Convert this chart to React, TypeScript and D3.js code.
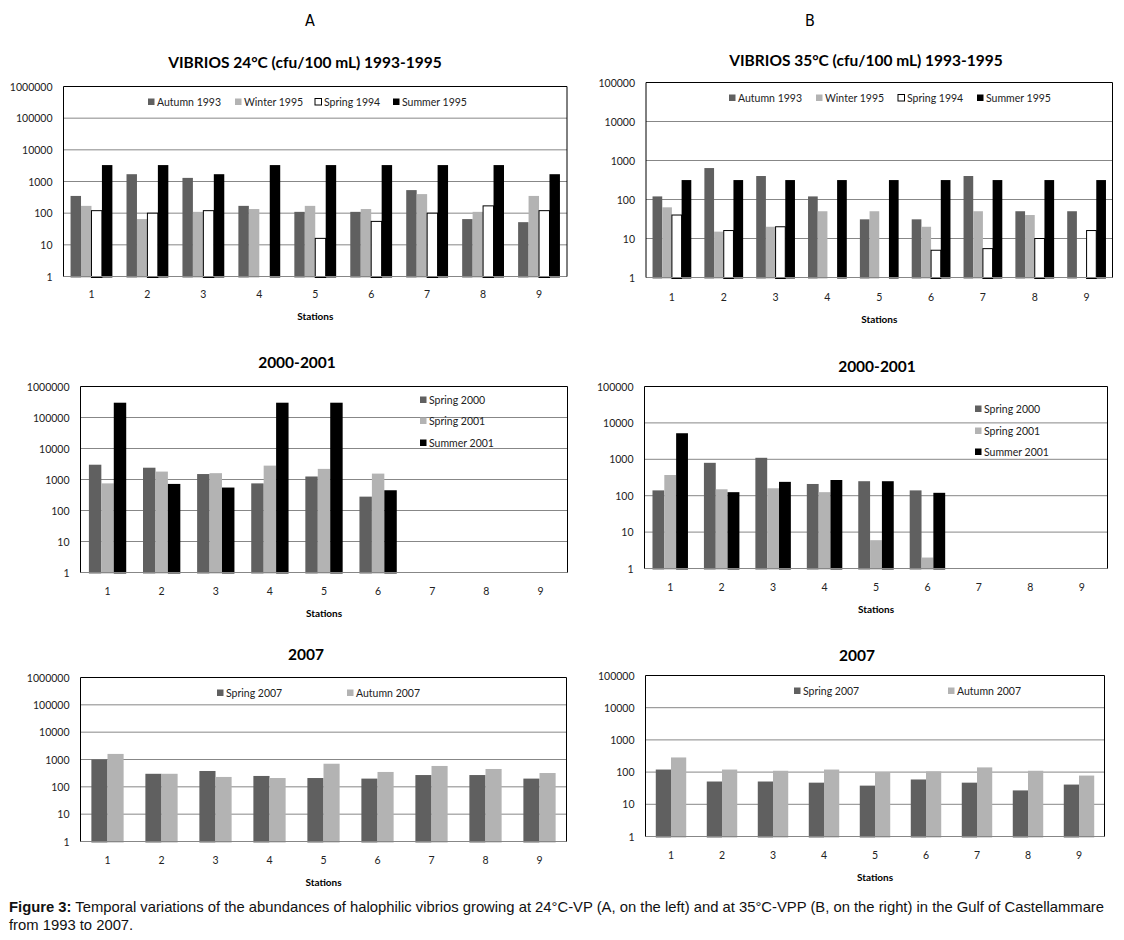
import React from 'react'
import * as d3 from 'd3'

// stations on the x axis
const stations = ['1', '2', '3', '4', '5', '6', '7', '8', '9']
const ticks24 = [1, 10, 100, 1000, 10000, 100000, 1000000]
const ticks35 = [1, 10, 100, 1000, 10000, 100000]

// A - 24°C, 1993-1995
const autumn1993A = [350, 1700, 1300, 170, 110, 110, 535, 65, 52]
const winter1995A = [170, 65, 110, 135, 170, 135, 400, 110, 350]
const spring1994A = [120, 100, 120, null, 16, 55, 100, 170, 120]
const summer1995A = [3300, 3300, 1700, 3300, 3300, 3300, 3300, 3300, 1700]

// B - 35°C, 1993-1995
const autumn1993B = [120, 640, 400, 120, 31, 31, 400, 50, 50]
const winter1995B = [63, 15, 20, 50, 50, 20, 50, 40, null]
const spring1994B = [40, 16, 20, null, null, 5, 5.5, 10, 16]
const summer1995B = [315, 315, 315, 315, 315, 315, 315, 315, 315]

// 2000-2001
const spring2000A = [3000, 2400, 1500, 750, 1250, 280, null, null, null]
const spring2001A = [750, 1800, 1600, 2800, 2200, 1550, null, null, null]
const summer2001A = [300000, 720, 550, 300000, 300000, 450, null, null, null]
const spring2000B = [140, 800, 1100, 210, 250, 140, null, null, null]
const spring2001B = [370, 150, 160, 125, 6, 2, null, null, null]
const summer2001B = [5200, 125, 240, 270, 250, 120, null, null, null]

// 2007
const spring2007A = [1000, 300, 380, 250, 210, 200, 270, 270, 200]
const autumn2007A = [1600, 300, 230, 210, 700, 350, 580, 450, 320]
const spring2007B = [120, 51, 51, 47, 38, 59, 47, 27, 41]
const autumn2007B = [285, 120, 110, 120, 100, 105, 140, 110, 78]

const DARK = '#606060'
const LIGHT = '#b3b3b3'
const GRID = '#878787'
const FONT = 'Lato, "Open Sans", sans-serif'

type Series = { name: string; values: (number | null)[]; fill: string; stroke?: string }
type Box = { x0: number; x1: number; y0: number; y1: number }
type LegendItem = { x: number; y: number }

interface PanelProps {
    title: string
    titleX: number
    titleY: number
    box: Box
    ticks: number[]
    series: Series[]
    legend: LegendItem[]
    xLabelY: number
    stationsY: number
}

const Panel: React.FC<PanelProps> = ({ title, titleX, titleY, box, ticks, series, legend, xLabelY, stationsY }) => {
    const gap = 1.35
    const n = series.length
    const pad = gap / (n + gap)
    const x = d3.scaleBand().domain(stations).range([box.x0, box.x1]).paddingInner(pad).paddingOuter(pad / 2)
    const inner = d3.scaleBand().domain(series.map((s) => s.name)).range([0, x.bandwidth()])
    const y = d3
        .scaleLog()
        .domain([1, ticks[ticks.length - 1]])
        .range([box.y1, box.y0])
    const band = (box.x1 - box.x0) / stations.length

    return (
        <g>
            <text x={titleX} y={titleY} textAnchor='middle' dominantBaseline='central' fontFamily={FONT} fontWeight='bold' fontSize={15.5}>
                {title}
            </text>
            {ticks.slice(1, -1).map((t) => (
                <line key={t} x1={box.x0} x2={box.x1} y1={y(t)} y2={y(t)} stroke={GRID} strokeWidth={1} />
            ))}
            {ticks.map((t) => (
                <text key={'l' + t} x={box.x0 - 11} y={y(t)} textAnchor='end' dominantBaseline='central' fontFamily={FONT} fontSize={10.5} fill='#222'>
                    {String(t)}
                </text>
            ))}
            {series.map((s) =>
                s.values.map((v, j) =>
                    v == null ? null : (
                        <rect
                            key={s.name + j}
                            x={(x(stations[j]) as number) + (inner(s.name) as number)}
                            y={y(v)}
                            width={inner.bandwidth()}
                            height={box.y1 - y(v) + 1}
                            fill={s.fill}
                            stroke={s.stroke ?? 'none'}
                            strokeWidth={1}
                        />
                    )
                )
            )}
            <line x1={box.x0} x2={box.x1} y1={box.y1} y2={box.y1} stroke={GRID} strokeWidth={1} />
            <path d={`M${box.x0},${box.y1}V${box.y0}H${box.x1}V${box.y1}`} fill='none' stroke='#000' strokeWidth={1} />
            {stations.map((st, j) => (
                <text key={'s' + st} x={box.x0 + band * (j + 0.5)} y={xLabelY} textAnchor='middle' dominantBaseline='central' fontFamily={FONT} fontSize={10.5} fill='#222'>
                    {st}
                </text>
            ))}
            <text x={(box.x0 + box.x1) / 2} y={stationsY} textAnchor='middle' dominantBaseline='central' fontFamily={FONT} fontWeight='bold' fontSize={10}>
                Stations
            </text>
            {series.map((s, i) => (
                <g key={'lg' + s.name}>
                    <rect x={legend[i].x} y={legend[i].y - 3.5} width={6.5} height={6.5} fill={s.fill} stroke={s.stroke ?? 'none'} strokeWidth={1} />
                    <text x={legend[i].x + 9} y={legend[i].y} dominantBaseline='central' fontFamily={FONT} fontSize={10.5} fill='#222'>
                        {s.name}
                    </text>
                </g>
            ))}
        </g>
    )
}

const seasonsA: Series[] = [
    { name: 'Autumn 1993', values: autumn1993A, fill: DARK },
    { name: 'Winter 1995', values: winter1995A, fill: LIGHT },
    { name: 'Spring 1994', values: spring1994A, fill: '#fff', stroke: '#000' },
    { name: 'Summer 1995', values: summer1995A, fill: '#000' }
]
const seasonsB: Series[] = [
    { name: 'Autumn 1993', values: autumn1993B, fill: DARK },
    { name: 'Winter 1995', values: winter1995B, fill: LIGHT },
    { name: 'Spring 1994', values: spring1994B, fill: '#fff', stroke: '#000' },
    { name: 'Summer 1995', values: summer1995B, fill: '#000' }
]
const y2000A: Series[] = [
    { name: 'Spring 2000', values: spring2000A, fill: DARK },
    { name: 'Spring 2001', values: spring2001A, fill: LIGHT },
    { name: 'Summer 2001', values: summer2001A, fill: '#000' }
]
const y2000B: Series[] = [
    { name: 'Spring 2000', values: spring2000B, fill: DARK },
    { name: 'Spring 2001', values: spring2001B, fill: LIGHT },
    { name: 'Summer 2001', values: summer2001B, fill: '#000' }
]
const y2007A: Series[] = [
    { name: 'Spring 2007', values: spring2007A, fill: DARK },
    { name: 'Autumn 2007', values: autumn2007A, fill: LIGHT }
]
const y2007B: Series[] = [
    { name: 'Spring 2007', values: spring2007B, fill: DARK },
    { name: 'Autumn 2007', values: autumn2007B, fill: LIGHT }
]

const App: React.FC = () => {
    return (
        <svg width={1124} height={940} viewBox='0 0 1124 940' style={{ position: 'absolute', left: 0, top: 0, background: '#fff' }}>
            <text x={310} y={20} textAnchor='middle' dominantBaseline='central' fontFamily='"Liberation Sans Narrow", "DejaVu Sans Condensed", sans-serif' fontSize={16}>
                A
            </text>
            <text x={810} y={20} textAnchor='middle' dominantBaseline='central' fontFamily='"Liberation Sans Narrow", "DejaVu Sans Condensed", sans-serif' fontSize={16}>
                B
            </text>

            <Panel
                title='VIBRIOS 24°C (cfu/100 mL) 1993-1995'
                titleX={305}
                titleY={62}
                box={{ x0: 63.5, x1: 567, y0: 86.5, y1: 276.5 }}
                ticks={ticks24}
                series={seasonsA}
                legend={[
                    { x: 148, y: 102 },
                    { x: 235, y: 102 },
                    { x: 315, y: 102 },
                    { x: 393, y: 102 }
                ]}
                xLabelY={294}
                stationsY={316}
            />
            <Panel
                title='VIBRIOS 35°C (cfu/100 mL) 1993-1995'
                titleX={866}
                titleY={60}
                box={{ x0: 646, x1: 1112.5, y0: 82.5, y1: 277.5 }}
                ticks={ticks35}
                series={seasonsB}
                legend={[
                    { x: 729, y: 98 },
                    { x: 816, y: 98 },
                    { x: 898, y: 98 },
                    { x: 977, y: 98 }
                ]}
                xLabelY={297}
                stationsY={319}
            />
            <Panel
                title='2000-2001'
                titleX={297}
                titleY={362}
                box={{ x0: 80.5, x1: 567.5, y0: 386.5, y1: 572.5 }}
                ticks={ticks24}
                series={y2000A}
                legend={[
                    { x: 420, y: 400 },
                    { x: 420, y: 421 },
                    { x: 420, y: 443 }
                ]}
                xLabelY={591}
                stationsY={613}
            />
            <Panel
                title='2000-2001'
                titleX={877}
                titleY={366}
                box={{ x0: 644.5, x1: 1107.5, y0: 386.5, y1: 568.5 }}
                ticks={ticks35}
                series={y2000B}
                legend={[
                    { x: 975, y: 409 },
                    { x: 975, y: 431 },
                    { x: 975, y: 452 }
                ]}
                xLabelY={587}
                stationsY={609}
            />
            <Panel
                title='2007'
                titleX={306}
                titleY={654}
                box={{ x0: 80.5, x1: 566.5, y0: 677.5, y1: 841.5 }}
                ticks={ticks24}
                series={y2007A}
                legend={[
                    { x: 217, y: 693 },
                    { x: 347, y: 693 }
                ]}
                xLabelY={860}
                stationsY={882}
            />
            <Panel
                title='2007'
                titleX={857}
                titleY={655}
                box={{ x0: 645.5, x1: 1104.5, y0: 675.5, y1: 836.5 }}
                ticks={ticks35}
                series={y2007B}
                legend={[
                    { x: 794, y: 691 },
                    { x: 948, y: 691 }
                ]}
                xLabelY={855}
                stationsY={877}
            />

            <text x={9} y={912} fontFamily='"Liberation Sans", Arial, sans-serif' fontSize={14.8} fill='#111'>
                <tspan fontWeight='bold'>Figure 3:</tspan>
                <tspan> Temporal variations of the abundances of halophilic vibrios growing at 24°C-VP (A, on the left) and at 35°C-VPP (B, on the right) in the Gulf of Castellammare</tspan>
            </text>
            <text x={9} y={930} fontFamily='"Liberation Sans", Arial, sans-serif' fontSize={14.8} fill='#111'>
                from 1993 to 2007.
            </text>
        </svg>
    )
}

export default App
